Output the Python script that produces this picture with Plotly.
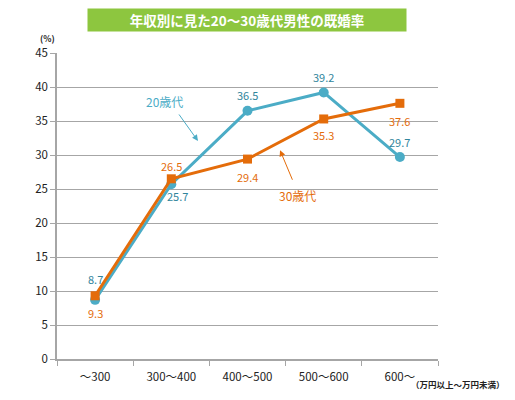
import plotly.graph_objects as go

#----- DATA --------------------------------------------------------------------
income_bands = ['～300', '300～400', '400～500', '500～600', '600～']
rate_20s = [8.7, 25.7, 36.5, 39.2, 29.7]
rate_30s = [9.3, 26.5, 29.4, 35.3, 37.6]
y_ticks = [0, 5, 10, 15, 20, 25, 30, 35, 40, 45]

# data label offsets in px (positive = above the point)
shift_20s = [21, -12, 16, 15, 15]
shift_30s = [-17, 13, -18, -16, -18]

color_20s = '#4bacc6'
color_20s_text = '#31859c'
color_30s = '#e46c0a'
grid_color = '#a6a6a6'
font_family = 'Noto Sans CJK JP'

#----- PLOT --------------------------------------------------------------------
fig = go.Figure()
fig.add_trace(go.Scatter(
    x=income_bands, y=rate_20s,
    mode='lines+markers',
    line=dict(color=color_20s, width=3),
    marker=dict(symbol='circle', size=10, color=color_20s),
    name='20歳代',
))
fig.add_trace(go.Scatter(
    x=income_bands, y=rate_30s,
    mode='lines+markers',
    line=dict(color=color_30s, width=3),
    marker=dict(symbol='square', size=9, color=color_30s),
    name='30歳代',
))

# page body has an 8px margin, so the figure is a bit smaller than the window
fig.update_layout(
    width=499, height=384,
    margin=dict(l=49, r=69, t=45, b=33),
    plot_bgcolor='white', paper_bgcolor='white',
    showlegend=False,
    font=dict(family=font_family, size=11.5, color='#222222'),
    xaxis=dict(
        type='category', range=[-0.5, 4.5],
        tickson='boundaries', ticks='outside', ticklen=5, tickcolor=grid_color,
        ticklabelstandoff=6, automargin=False,
        showline=True, linecolor=grid_color, linewidth=1.5,
        showgrid=False,
    ),
    yaxis=dict(
        range=[0, 45], tickvals=y_ticks, automargin=False,
        ticks='outside', ticklen=5, tickcolor=grid_color,
        showline=True, linecolor=grid_color, linewidth=1.5,
        gridcolor=grid_color, gridwidth=1.2, zeroline=False,
    ),
)

# data labels
for i, band in enumerate(income_bands):
    fig.add_annotation(
        text=f'{rate_20s[i]:.1f}', x=band, y=rate_20s[i],
        xshift=6 if shift_20s[i] < 0 else 0, yshift=shift_20s[i],
        showarrow=False, font=dict(color=color_20s_text, size=11),
    )
    fig.add_annotation(
        text=f'{rate_30s[i]:.1f}', x=band, y=rate_30s[i],
        yshift=shift_30s[i],
        showarrow=False, font=dict(color=color_30s, size=11),
    )

# title banner
fig.add_annotation(
    text='<b>年収別に見た20～30歳代男性の既婚率</b>',
    xref='paper', x=0.4987, yref='paper', y=1.108,
    xanchor='center', yanchor='middle',
    showarrow=False, bgcolor='#8dc63f', width=316, height=20,
    font=dict(color='white', size=13.5),
)
fig.add_annotation(
    text='<b>(%)</b>', xref='paper', x=-0.024, yref='paper', y=1.048,
    xanchor='center', yanchor='middle',
    showarrow=False, font=dict(size=8.5),
)
fig.add_annotation(
    text='<b>（万円以上～万円未満）</b>', xref='paper', x=1.052, yref='paper', y=-0.083,
    xanchor='center', yanchor='middle',
    showarrow=False, font=dict(size=8.5),
)

# series callouts
fig.add_annotation(
    text='20歳代', x=0.917, y=37.9, showarrow=False,
    font=dict(color=color_20s, size=12),
)
fig.add_annotation(
    text='', x=1.35, y=32.06, ax=-20, ay=-28,
    showarrow=True, arrowhead=2, arrowsize=1.2, arrowwidth=1, arrowcolor=color_20s,
)
fig.add_annotation(
    text='30歳代', x=2.65, y=24.0, showarrow=False,
    font=dict(color=color_30s, size=12),
)
fig.add_annotation(
    text='', x=2.427, y=30.7, ax=13, ay=31,
    showarrow=True, arrowhead=2, arrowsize=1.2, arrowwidth=1, arrowcolor=color_30s,
)

fig.write_html('out.html')
